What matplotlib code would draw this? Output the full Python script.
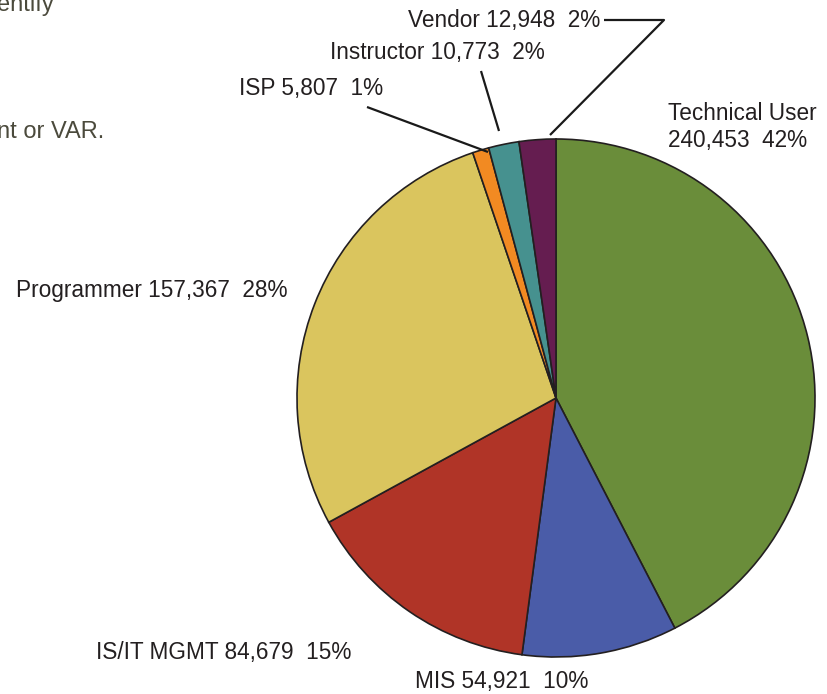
import matplotlib.pyplot as plt

# Job-function breakdown (readers by role)
ROLES = ["Technical User", "MIS", "IS/IT MGMT", "Programmer", "ISP", "Instructor", "Vendor"]
COUNTS = [240453, 54921, 84679, 157367, 5807, 10773, 12948]
COLORS = ["#6a8d3a", "#4a5ca8", "#b03427", "#dac55e", "#f28a22", "#46918f", "#651d50"]

W, H = 828, 694
CX, CY, R = 556, 398, 259
TEXT_COLOR = "#231f20"
PAGE_COLOR = "#4b4a3c"

plt.rcParams["font.family"] = ["Liberation Sans", "DejaVu Sans"]


def py(y):
    # pixel row (from top) -> data y
    return H - y


def label_for(i, total):
    pct = round(100 * COUNTS[i] / total)
    sep = "\n" if ROLES[i] == "Technical User" else " "
    return f"{ROLES[i]}{sep}{COUNTS[i]:,}  {pct}%"


fig = plt.figure(figsize=(W / 100, H / 100), dpi=100)
ax = fig.add_axes([0, 0, 1, 1])

ax.pie(
    COUNTS,
    colors=COLORS,
    startangle=90,
    counterclock=False,
    center=(CX, py(CY)),
    radius=R,
    wedgeprops=dict(edgecolor=TEXT_COLOR, linewidth=1.2),
)
ax.set_xlim(0, W)
ax.set_ylim(0, H)
ax.set_aspect("equal")
ax.axis("off")

total = sum(COUNTS)
fs = 16.3

# direct labels (pixel positions: anchor x, centre y)
ax.text(668, py(127), label_for(0, total), fontsize=fs, color=TEXT_COLOR,
        ha="left", va="center", linespacing=1.2)
ax.text(588, py(682), label_for(1, total), fontsize=fs, color=TEXT_COLOR, ha="right", va="center")
ax.text(351, py(652), label_for(2, total), fontsize=fs, color=TEXT_COLOR, ha="right", va="center")
ax.text(288, py(290), label_for(3, total), fontsize=fs, color=TEXT_COLOR, ha="right", va="center")
ax.text(383, py(88), label_for(4, total), fontsize=fs, color=TEXT_COLOR, ha="right", va="center")
ax.text(545, py(52), label_for(5, total), fontsize=fs, color=TEXT_COLOR, ha="right", va="center")
ax.text(600, py(20), label_for(6, total), fontsize=fs, color=TEXT_COLOR, ha="right", va="center")

# leader lines for the thin slices
lk = dict(color="#1a1a1a", linewidth=1.6, solid_capstyle="butt")
ax.plot([367, 488], [py(107), py(152)], **lk)
ax.plot([481, 499], [py(71), py(131)], **lk)
ax.plot([604, 664, 550], [py(20), py(20), py(135)], **lk)

# fragments of the surrounding page text (cut off by the crop, as in the source)
ax.text(-3, py(5), "entify", fontsize=17, color=PAGE_COLOR, ha="left", va="center")
ax.text(-3, py(132), "nt or VAR.", fontsize=17, color=PAGE_COLOR, ha="left", va="center")

fig.savefig("out.png", dpi=100)
